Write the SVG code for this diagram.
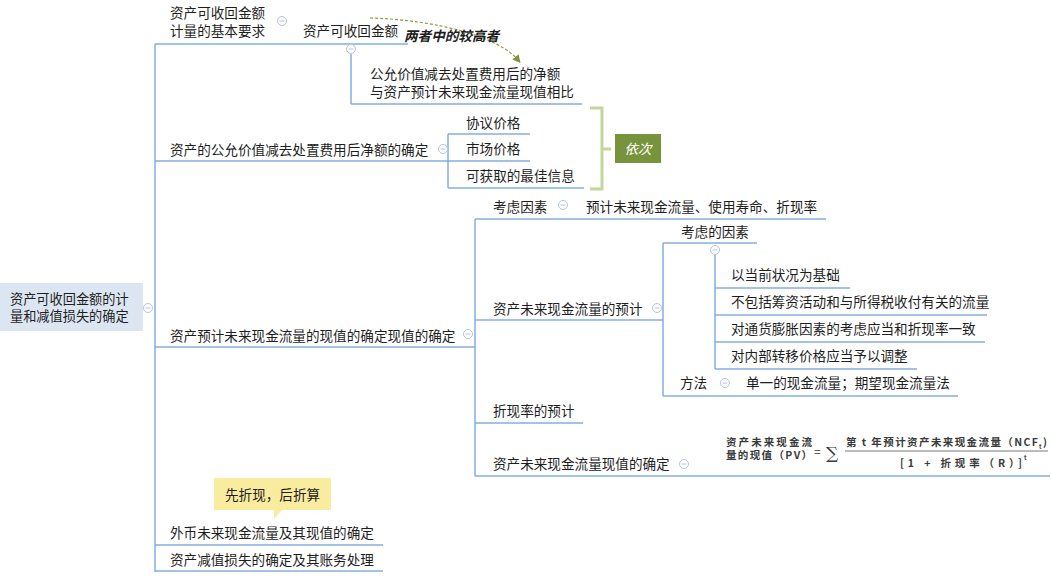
<svg xmlns="http://www.w3.org/2000/svg" width="1052" height="576" viewBox="0 0 1052 576">
<style>
text{font-family:"Noto Sans CJK SC","Microsoft YaHei",sans-serif;font-size:13.6px;fill:#1e1e1e}
.ln{stroke:#86acdf;stroke-width:1.5;fill:none}
.cc{fill:#fff;stroke:#b4c4dc;stroke-width:1}
.cm{stroke:#b4c4dc;stroke-width:1}
.f{font-family:"Noto Sans CJK SC",serif;font-size:10.5px;font-weight:bold;fill:#3a3a3a}
</style>
<defs>
<marker id="ah" markerWidth="8" markerHeight="8" refX="4" refY="4" orient="auto" markerUnits="userSpaceOnUse"><path d="M0,0 L8,4 L0,8 z" fill="#7f9234"/></marker>
<g id="col"><circle cx="0" cy="0" r="4.5" class="cc"/><line x1="-2.5" y1="0" x2="2.5" y2="0" class="cm"/></g>
</defs>
<g id="connectors">
<line class="ln" x1="155" y1="44" x2="155" y2="572"/>
<line class="ln" x1="155" y1="44" x2="408" y2="44"/>
<line class="ln" x1="351" y1="54" x2="351" y2="104"/>
<line class="ln" x1="351" y1="104" x2="582" y2="104"/>
<line class="ln" x1="155" y1="161" x2="448" y2="161"/>
<line class="ln" x1="448" y1="134" x2="448" y2="188"/>
<line class="ln" x1="448" y1="134" x2="530" y2="134"/>
<line class="ln" x1="448" y1="161" x2="530" y2="161"/>
<line class="ln" x1="448" y1="188" x2="584" y2="188"/>
<line class="ln" x1="155" y1="347" x2="475" y2="347"/>
<line class="ln" x1="475" y1="219" x2="475" y2="476"/>
<line class="ln" x1="475" y1="219" x2="826" y2="219"/>
<line class="ln" x1="475" y1="320" x2="663" y2="320"/>
<line class="ln" x1="663" y1="243" x2="663" y2="396"/>
<line class="ln" x1="663" y1="243" x2="757" y2="243"/>
<line class="ln" x1="715" y1="255" x2="715" y2="369"/>
<line class="ln" x1="715" y1="288" x2="850" y2="288"/>
<line class="ln" x1="715" y1="315" x2="987" y2="315"/>
<line class="ln" x1="715" y1="342" x2="985" y2="342"/>
<line class="ln" x1="715" y1="369" x2="917" y2="369"/>
<line class="ln" x1="663" y1="396" x2="958" y2="396"/>
<line class="ln" x1="475" y1="423" x2="583" y2="423"/>
<line class="ln" x1="475" y1="476" x2="1050" y2="476"/>
<line class="ln" x1="155" y1="545" x2="383" y2="545"/>
<line class="ln" x1="155" y1="571" x2="383" y2="571"/>
<path d="M590,108 H602 V189 H590 M602,149 H611" fill="none" stroke="#c3d69b" stroke-width="3"/>
<path d="M370,18 C440,20 500,38 518,60" fill="none" stroke="#8c9c45" stroke-width="1.2" stroke-dasharray="3,2" marker-end="url(#ah)"/>
</g>
<g id="root">
<rect x="0" y="283" width="143" height="48" fill="#dce6f2"/>
<text x="10" y="304" style="font-size:13.2px">资产可收回金额的计</text>
<text x="10" y="321" style="font-size:13.2px">量和减值损失的确定</text>
<use href="#col" x="148" y="308"/>
</g>
<g id="n1">
<text x="170" y="18">资产可收回金额</text>
<text x="170" y="36">计量的基本要求</text>
<use href="#col" x="282" y="21"/>
</g>
<g id="n1a">
<text x="303" y="36">资产可收回金额</text>
<use href="#col" x="351" y="49"/>
</g>
<g id="n1b">
<text x="370" y="79">公允价值减去处置费用后的净额</text>
<text x="370" y="97">与资产预计未来现金流量现值相比</text>
</g>
<g id="lbl-arrow">
<text x="404" y="41" font-weight="bold" font-style="italic">两者中的较高者</text>
</g>
<g id="n2">
<text x="170" y="155">资产的公允价值减去处置费用后净额的确定</text>
<use href="#col" x="443" y="149"/>
</g>
<g id="n2a"><text x="466" y="128">协议价格</text></g>
<g id="n2b"><text x="466" y="154">市场价格</text></g>
<g id="n2c"><text x="466" y="181">可获取的最佳信息</text></g>
<g id="n2s">
<rect x="615" y="134" width="46" height="29" fill="#77933c"/>
<text x="638" y="154" text-anchor="middle" font-style="italic" style="fill:#fff">依次</text>
</g>
<g id="n3">
<text x="170" y="341">资产预计未来现金流量的现值的确定现值的确定</text>
<use href="#col" x="468" y="334"/>
</g>
<g id="n3a">
<text x="493" y="212">考虑因素</text>
<use href="#col" x="563" y="205"/>
</g>
<g id="n3a1"><text x="586" y="212">预计未来现金流量、使用寿命、折现率</text></g>
<g id="n3b">
<text x="493" y="314">资产未来现金流量的预计</text>
<use href="#col" x="657" y="308"/>
</g>
<g id="n3b1">
<text x="681" y="237">考虑的因素</text>
<use href="#col" x="715" y="250"/>
</g>
<g id="n3b1a"><text x="731" y="280">以当前状况为基础</text></g>
<g id="n3b1b"><text x="731" y="307">不包括筹资活动和与所得税收付有关的流量</text></g>
<g id="n3b1c"><text x="731" y="334">对通货膨胀因素的考虑应当和折现率一致</text></g>
<g id="n3b1d"><text x="731" y="361">对内部转移价格应当予以调整</text></g>
<g id="n3b2">
<text x="680" y="388">方法</text>
<use href="#col" x="725" y="383"/>
</g>
<g id="n3b2a"><text x="746" y="388">单一的现金流量；期望现金流量法</text></g>
<g id="n3c"><text x="493" y="416">折现率的预计</text></g>
<g id="n3d">
<text x="493" y="469">资产未来现金流量现值的确定</text>
<use href="#col" x="684" y="464"/>
</g>
<g id="n3d1">
<text class="f" x="726" y="446" textLength="86" lengthAdjust="spacing">资产未来现金流</text>
<text class="f" x="726" y="459" textLength="86" lengthAdjust="spacing">量的现值（PV）</text>
<text class="f" x="814" y="456" style="font-weight:normal;font-size:12px">=</text>
<text x="826" y="459" style="font-family:'DejaVu Serif',serif;font-size:17px;fill:#3a3a3a">∑</text>
<text class="f" x="846" y="446" textLength="192" lengthAdjust="spacing">第 t 年预计资产未来现金流量（NCF</text>
<text class="f" x="1039" y="449" style="font-size:6px">t</text>
<text class="f" x="1043" y="446">)</text>
<line x1="845" y1="451" x2="1048" y2="451" stroke="#555" stroke-width="0.8"/>
<text class="f" x="900" y="467" textLength="122" lengthAdjust="spacing">[1 + 折现率（R）]</text>
<text class="f" x="1024" y="460" style="font-size:6px">t</text>
</g>
<g id="n4">
<text x="170" y="538">外币未来现金流量及其现值的确定</text>
</g>
<g id="n4s">
<path d="M214,478 H331 V510 H282 L274,519 L274,510 H214 Z" fill="#faec9e"/>
<text x="225" y="500">先折现，后折算</text>
</g>
<g id="n5">
<text x="170" y="565">资产减值损失的确定及其账务处理</text>
</g>
</svg>
